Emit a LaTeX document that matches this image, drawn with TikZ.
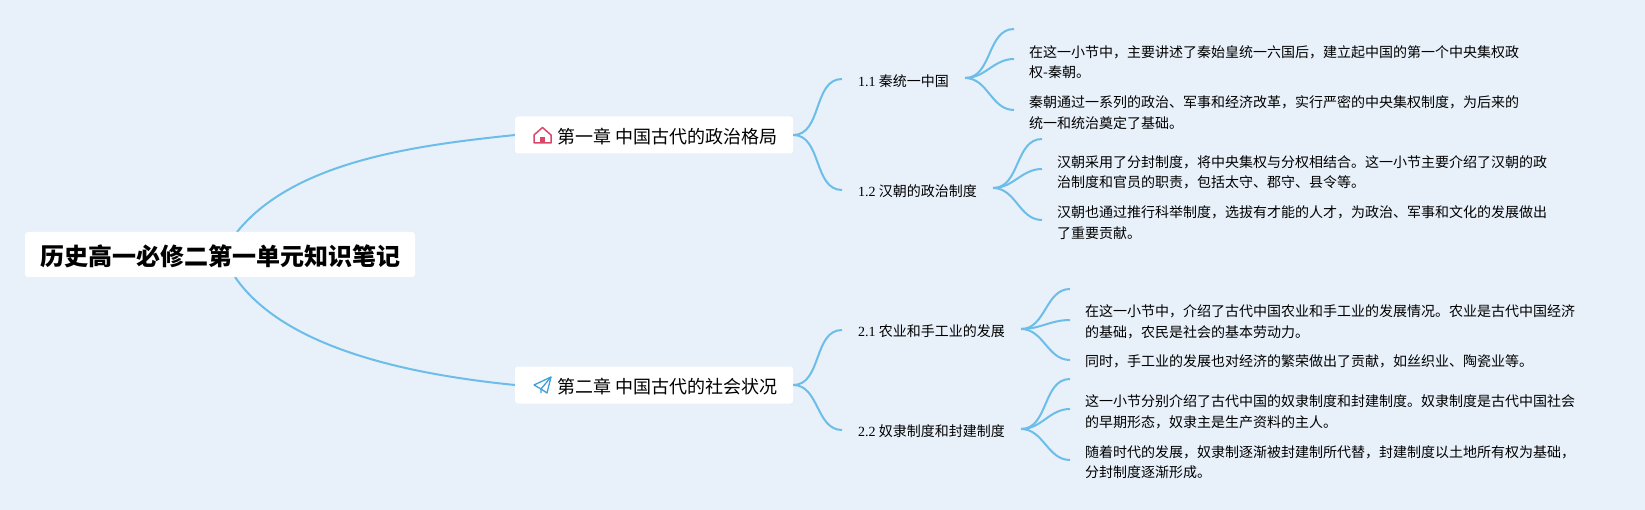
\documentclass[tikz,border=0pt]{standalone}
\usepackage{fontspec}
\setmainfont{Liberation Serif}
\newfontfamily\latin{Liberation Serif}
\newfontfamily\cjk{Noto Sans CJK SC}
\definecolor{pagebg}{RGB}{232,241,250}
\definecolor{linkblue}{RGB}{108,189,232}
\definecolor{housered}{RGB}{217,71,107}
\definecolor{planeblue}{RGB}{63,160,218}
\tikzset{
    rootbox/.style={fill=white, rounded corners=3pt, minimum width=390pt, minimum height=45pt, inner sep=0pt, text height=23pt, text depth=0pt, font=\cjk\bfseries\fontsize{24}{28}\selectfont},
    chapbox/.style={fill=white, rounded corners=3pt, minimum width=278pt, minimum height=37pt, text width=246pt, inner xsep=16pt, inner ysep=0pt, align=right, text height=17pt, text depth=0pt, font=\cjk\fontsize{18}{21}\selectfont},
    secbox/.style={anchor=west, inner xsep=16pt, inner ysep=0pt, font=\cjk\fontsize{14}{20.5}\selectfont},
    notebox/.style={anchor=west, text width=510pt, inner xsep=15pt, inner ysep=0pt, align=left, font=\cjk\fontsize{14}{20.5}\selectfont},
    link/.style={draw=linkblue, line width=2pt}
}
\begin{document}
\begin{tikzpicture}[x=1pt, y=-1pt]

    \useasboundingbox (0,0) rectangle (1645,510);
    \fill[pagebg] (0,0) rectangle (1645,510);

    \draw[link] (237,232) coordinate (rootup) .. controls +(58,-72) and +(-95,10) .. (515,135) coordinate (chapin1);
    \draw[link] (235,277) coordinate (rootdown) .. controls +(50,73) and +(-100,-10) .. (515,385) coordinate (chapin2);

    \node[rootbox] (root) at (220,254.5) {历史高一必修二第一单元知识笔记};

    \node[chapbox] (chap1) at (654,135) {第一章\hspace{4pt}中国古代的政治格局};
    \node[chapbox] (chap2) at (654,385) {第二章\hspace{4pt}中国古代的社会状况};

    \draw[draw=housered, line width=1.5pt, line join=round] (542.5,127.5) -- (551,135) -- (551,143) -- (534,143) -- (534,135) -- cycle;
    \fill[housered] (540,137) rectangle (545,143);
    \draw[draw=planeblue, line width=1.3pt, line join=round] (551,377) -- (534,385) -- (541,389) -- (547,393) -- cycle;
    \draw[draw=planeblue, line width=1.3pt, line join=round] (551,377) -- (541,389) -- (541,393);

    \node[secbox] (sec11) at (842,81) {{\latin 1.1} 秦统一中国};
    \node[secbox] (sec12) at (842,191) {{\latin 1.2} 汉朝的政治制度};
    \node[secbox] (sec21) at (842,331.5) {{\latin 2.1} 农业和手工业的发展};
    \node[secbox] (sec22) at (842,431.5) {{\latin 2.2} 奴隶制度和封建制度};

    \draw[link] (chap1.east) to[out=0, in=180] ([yshift=2pt]sec11.west);
    \draw[link] (chap1.east) to[out=0, in=180] ([yshift=1pt]sec12.west);
    \draw[link] (chap2.east) to[out=0, in=180] ([yshift=1.5pt]sec21.west);
    \draw[link] (chap2.east) to[out=0, in=180] ([yshift=1.5pt]sec22.west);

    \coordinate (top11) at (1014,29);
    \coordinate (top12) at (1042,139);
    \coordinate (top21) at (1070,289);
    \coordinate (top22) at (1070,379);

    \node[notebox] (note111) at (1014,62) {在这一小节中，主要讲述了秦始皇统一六国后，建立起中国的第一个中央集权政\\权-秦朝。};
    \node[notebox] (note112) at (1014,112.5) {秦朝通过一系列的政治、军事和经济改革，实行严密的中央集权制度，为后来的\\统一和统治奠定了基础。};
    \node[notebox] (note121) at (1042,172.5) {汉朝采用了分封制度，将中央集权与分权相结合。这一小节主要介绍了汉朝的政\\治制度和官员的职责，包括太守、郡守、县令等。};
    \node[notebox] (note122) at (1042,222.5) {汉朝也通过推行科举制度，选拔有才能的人才，为政治、军事和文化的发展做出\\了重要贡献。};
    \node[notebox] (note211) at (1070,322) {在这一小节中，介绍了古代中国农业和手工业的发展情况。农业是古代中国经济\\的基础，农民是社会的基本劳动力。};
    \node[notebox] (note212) at (1070,361) {同时，手工业的发展也对经济的繁荣做出了贡献，如丝织业、陶瓷业等。};
    \node[notebox] (note221) at (1070,412) {这一小节分别介绍了古代中国的奴隶制度和封建制度。奴隶制度是古代中国社会\\的早期形态，奴隶主是生产资料的主人。};
    \node[notebox] (note222) at (1070,462) {随着时代的发展，奴隶制逐渐被封建制所代替，封建制度以土地所有权为基础，\\分封制度逐渐形成。};

    \draw[link] ([yshift=3pt]sec11.east) to[out=0, in=180] (top11);
    \draw[link] ([yshift=3pt]sec11.east) to[out=0, in=180] ([yshift=3pt]note111.west);
    \draw[link] ([yshift=3pt]sec11.east) to[out=0, in=180] ([yshift=2.5pt]note112.west);

    \draw[link] ([yshift=3pt]sec12.east) to[out=0, in=180] (top12);
    \draw[link] ([yshift=3pt]sec12.east) to[out=0, in=180] ([yshift=3.5pt]note121.west);
    \draw[link] ([yshift=3pt]sec12.east) to[out=0, in=180] ([yshift=2.5pt]note122.west);

    \draw[link] ([yshift=2.5pt]sec21.east) to[out=0, in=180] (top21);
    \draw[link] ([yshift=2.5pt]sec21.east) to[out=0, in=180] ([yshift=2pt]note211.west);
    \draw[link] ([yshift=2.5pt]sec21.east) to[out=0, in=180] ([yshift=1pt]note212.west);

    \draw[link] ([yshift=2.5pt]sec22.east) to[out=0, in=180] (top22);
    \draw[link] ([yshift=2.5pt]sec22.east) to[out=0, in=180] ([yshift=3pt]note221.west);
    \draw[link] ([yshift=2.5pt]sec22.east) to[out=0, in=180] ([yshift=2pt]note222.west);
\end{tikzpicture}
\end{document}
